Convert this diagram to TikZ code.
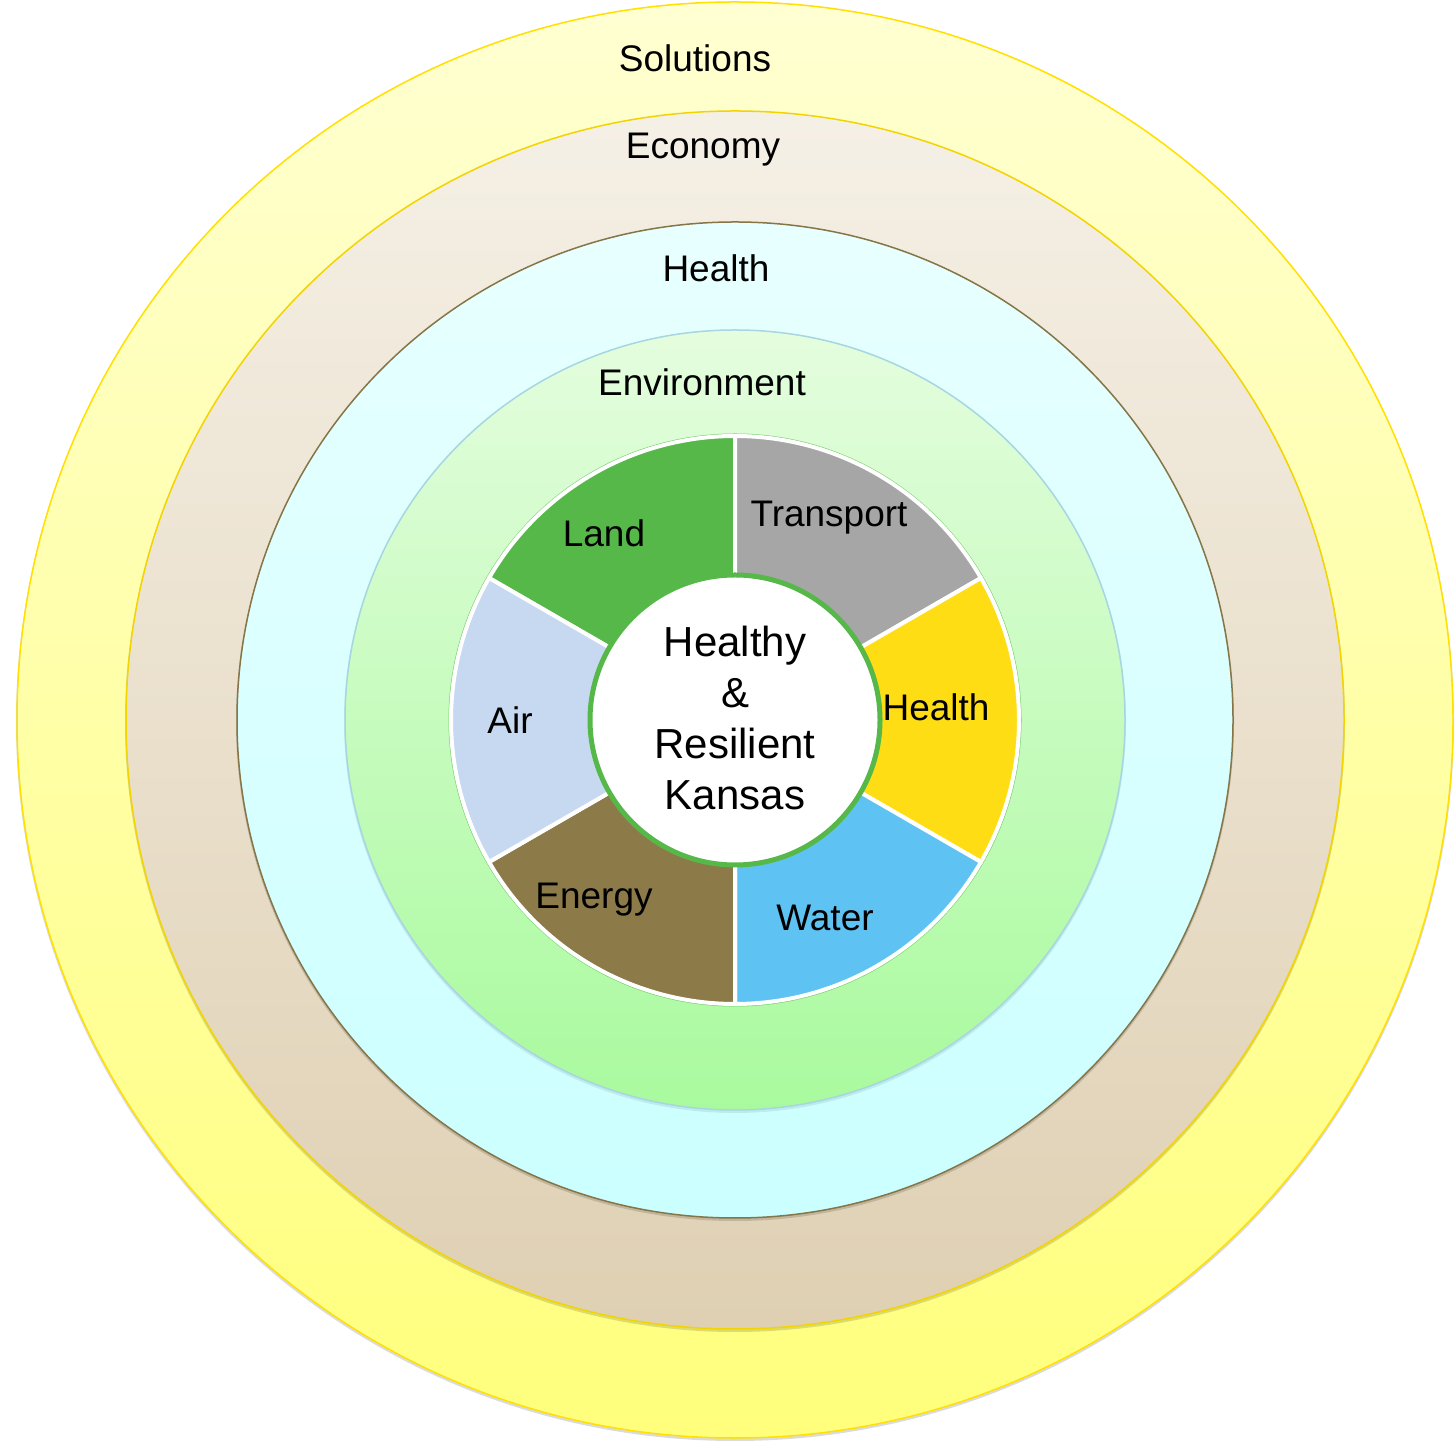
\documentclass[tikz,border=0pt]{standalone}
\usepackage{fontspec}
\setmainfont{Liberation Sans}
\definecolor{solTop}{HTML}{FFFFD2}
\definecolor{solBot}{HTML}{FFFF7C}
\definecolor{solLine}{HTML}{FFE000}
\definecolor{ecoTop}{HTML}{F5F0E6}
\definecolor{ecoBot}{HTML}{DFD0B3}
\definecolor{ecoLine}{HTML}{F2D400}
\definecolor{heaTop}{HTML}{E8FFFF}
\definecolor{heaBot}{HTML}{CBFFFF}
\definecolor{heaLine}{HTML}{857547}
\definecolor{envTop}{HTML}{E4FDDE}
\definecolor{envBot}{HTML}{A9FA9E}
\definecolor{envLine}{HTML}{A6D6E2}
\definecolor{cLand}{HTML}{57B84A}
\definecolor{cTrans}{HTML}{A6A6A6}
\definecolor{cHealth}{HTML}{FFDD15}
\definecolor{cWater}{HTML}{5EC3F2}
\definecolor{cEnergy}{HTML}{8C7A48}
\definecolor{cAir}{HTML}{C7D9F0}
\tikzset{
  ring/.style={circle, inner sep=0pt, outer sep=0pt, line width=1.5pt},
  ringshadow/.style={fill=black, fill opacity=0.14},
  ringlabel/.style={font=\fontsize{37}{44}\selectfont, text=black, inner sep=0pt},
  seglabel/.style={font=\fontsize{37}{44}\selectfont, text=black, inner sep=0pt},
  segment/.style={draw=white, line width=4pt, line join=round},
}
\begin{document}
\begin{tikzpicture}[x=1pt,y=1pt]
\useasboundingbox (0,0) rectangle (1455,1440);
\coordinate (c) at (735,720);
\fill[ringshadow] (735,718) circle[radius=719];
\node[ring, minimum size=1436pt, top color=solTop, bottom color=solBot, draw=solLine] (sol) at (c) {};
\fill[ringshadow] (735,718) circle[radius=610];
\node[ring, minimum size=1218pt, top color=ecoTop, bottom color=ecoBot, draw=ecoLine] (eco) at (c) {};
\fill[ringshadow] (735,718) circle[radius=499];
\node[ring, minimum size=996pt, top color=heaTop, bottom color=heaBot, draw=heaLine] (hea) at (c) {};
\fill[ringshadow, fill opacity=0.08] (735,718) circle[radius=391];
\node[ring, minimum size=780pt, top color=envTop, bottom color=envBot, draw=envLine] (env) at (c) {};
\begin{scope}[shift={(c)}]
  \draw[cLand, line width=1pt, opacity=0.7] (0,0) circle[radius=286];
  \draw[segment, fill=cLand]   (0,0) -- (90:284)  arc[start angle=90,  end angle=150, radius=284] -- cycle;
  \draw[segment, fill=cTrans]  (0,0) -- (30:284)  arc[start angle=30,  end angle=90,  radius=284] -- cycle;
  \draw[segment, fill=cHealth] (0,0) -- (-30:284) arc[start angle=-30, end angle=30,  radius=284] -- cycle;
  \draw[segment, fill=cWater]  (0,0) -- (-90:284) arc[start angle=-90, end angle=-30, radius=284] -- cycle;
  \draw[segment, fill=cEnergy] (0,0) -- (210:284) arc[start angle=210, end angle=270, radius=284] -- cycle;
  \draw[segment, fill=cAir]    (0,0) -- (150:284) arc[start angle=150, end angle=210, radius=284] -- cycle;
\end{scope}
\node[circle, fill=white, draw=cLand, line width=5pt, minimum size=290pt, inner sep=0pt] (core) at (c) {};
\node[align=center, font=\fontsize{42}{51}\selectfont, inner sep=0pt] (coretext) at (735,722) {Healthy\\\&\\Resilient\\Kansas};
\node[ringlabel] (lsol) at (695,1382) {Solutions};
\node[ringlabel] (leco) at (703,1290) {Economy};
\node[ringlabel] (lhea) at (716,1172) {Health};
\node[ringlabel] (lenv) at (702,1058) {Environment};
\node[seglabel] (lland) at (604,907) {Land};
\node[seglabel] (ltrans) at (829,922) {Transport};
\node[seglabel] (lhealth) at (936,733) {Health};
\node[seglabel] (lwater) at (825,522) {Water};
\node[seglabel] (lenergy) at (594,540) {Energy};
\node[seglabel] (lair) at (510,720) {Air};
\end{tikzpicture}
\end{document}
